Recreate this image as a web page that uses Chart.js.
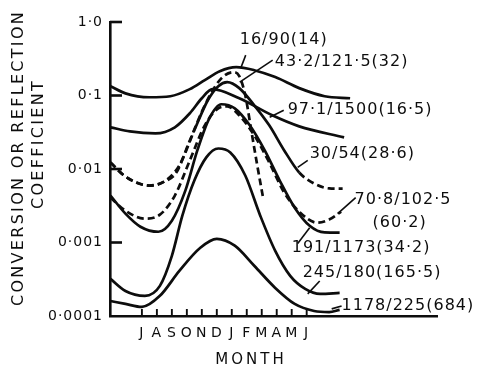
<!DOCTYPE html>
<html><head><meta charset="utf-8">
<script src="https://cdn.jsdelivr.net/npm/chart.js@4/dist/chart.umd.min.js"></script>
<style>html,body{margin:0;padding:0;background:#fff}</style>
</head><body>
<canvas id="c" width="481" height="367"></canvas>
<script>
// ---- categories / tick labels ----
const monthLabels = ['J','A','S','O','N','D','J','F','M','A','M','J'];
const yTickValues = [0.0001, 0.001, 0.01, 0.1, 1];
const yTickLabels = ['0·0001', '0·001', '0·01', '0·1', '1·0'];

// ---- series (month index: 0 = first J) ----
const months_16_90 = [-2.1,-1.1,0.5,1.9,3.2,4.2,5.2,6.3,7.5,8.9,10.5,12.2,13.9];
const coef_16_90   = [0.134,0.107,0.0946,0.0977,0.122,0.162,0.214,0.243,0.221,0.178,0.126,0.0977,0.0917];

const months_43_2 = [-2.1,-1.1,0.5,1.5,2.3,3.2,4.2,5.2,6.1,6.5,6.9,7.3,7.7,8.1];
const coef_43_2   = [0.0123,0.0079,0.00595,0.00675,0.00896,0.0245,0.0736,0.162,0.208,0.183,0.1008,0.0336,0.0112,0.00396];

const months_97_1 = [-2.1,-0.8,0.9,2.2,3.2,4.0,4.7,6.5,8.7,10.5,13.5];
const coef_97_1   = [0.0369,0.0325,0.0305,0.0369,0.0573,0.0917,0.122,0.0917,0.0537,0.038,0.0269];

const months_30_54 = [-2.1,-1.1,0.5,1.5,2.5,3.5,4.4,5.1,5.7,6.5,7.5,8.5,9.5,10.5,11.5,12.5,13.4];
const coef_30_54   = [0.0123,0.0079,0.00595,0.00675,0.0112,0.0336,0.0861,0.134,0.152,0.126,0.0736,0.0393,0.0179,0.00896,0.00634,0.00545,0.0054];

const months_70_8 = [-2.1,-1.1,0.2,1.2,2.2,3.2,4.2,5.1,5.7,6.5,7.5,8.5,9.5,10.5,11.7,12.5,13.3];
const coef_70_8   = [0.00408,0.00271,0.00211,0.00239,0.00435,0.0131,0.0393,0.067,0.0713,0.0537,0.0287,0.0123,0.00478,0.00263,0.00186,0.00205,0.00263];

const months_191 = [-2.1,-1.1,-0.1,1.1,2.0,2.9,3.7,4.5,5.3,6.2,7.2,8.2,9.2,10.2,11.2,12.2,13.2];
const coef_191   = [0.00435,0.00247,0.00164,0.0014,0.00198,0.00508,0.0179,0.0489,0.076,0.067,0.0393,0.0179,0.00697,0.00298,0.00169,0.00137,0.00136];

const months_245 = [-2.1,-1.1,0.2,1.2,2.0,2.7,3.5,4.3,5.1,5.9,6.9,7.9,8.9,9.9,10.9,11.9,13.2];
const coef_245   = [0.00032,0.000219,0.000188,0.000257,0.000659,0.00232,0.00697,0.0144,0.019,0.0168,0.00815,0.00232,0.00077,0.000352,0.000234,0.0002,0.000206];

const months_1178 = [-2.1,-1.1,0,1.2,2.5,3.9,5.0,6.2,7.5,8.9,10.2,11.5,12.5,13.2];
const coef_1178   = [0.00016,0.000146,0.000133,0.000188,0.000411,0.000848,0.00112,0.000904,0.000482,0.000241,0.000146,0.000117,0.000113,0.000121];

// ---- curve labels (text) ----
const labelTexts = ['16/90(14)','43·2/121·5(32)','97·1/1500(16·5)','30/54(28·6)','70·8/102·5','(60·2)','191/1173(34·2)','245/180(165·5)','1178/225(684)'];

// ---- layout (kept separate from data) ----
const labelAnchors = [[6.53,0.568],[8.87,0.284],[9.73,0.0629],[11.2,0.0163],[14.2,0.00383],[15.4,0.00186],[10.0,0.000848],[10.73,0.000386],[13.33,0.000137]];
const leaders = [
  [6.93,0.354,6.6,0.236],
  [8.73,0.303,6.53,0.152],
  [9.47,0.0629,8.53,0.0505],
  [11.07,0.0131,10.4,0.0105],
  [14.27,0.00408,13.07,0.00247],
  [10.4,0.00097,11.2,0.00159],
  [11.87,0.0003,11.07,0.0002],
  [12.67,0.000125,13.33,0.000137]
];

const DASH = [7,4];
const series = [
  {m: months_16_90, v: coef_16_90, dash: []},
  {m: months_43_2, v: coef_43_2, dash: DASH},
  {m: months_97_1, v: coef_97_1, dash: []},
  {m: months_30_54, v: coef_30_54, dash: [], seg: true},
  {m: months_70_8, v: coef_70_8, dash: DASH},
  {m: months_191, v: coef_191, dash: []},
  {m: months_245, v: coef_245, dash: []},
  {m: months_1178, v: coef_1178, dash: []}
];

const datasets = series.map(s => {
  const d = {
    data: s.m.map((mm, i) => ({x: mm, y: s.v[i]})),
    borderColor: '#0d0d0d', borderWidth: 2.7, borderDash: s.dash,
    pointRadius: 0, fill: false, cubicInterpolationMode: 'monotone'
  };
  if (s.seg) d.segment = { borderDash: ctx => (ctx.p0.parsed.x < 3 || ctx.p0.parsed.x >= 10.4) ? DASH : [] };
  return d;
});

const FONT = 'DejaVu Sans';

const decor = {
  id: 'decor',
  beforeDraw(chart) {
    const c = chart.ctx;
    c.save(); c.fillStyle = '#fff'; c.fillRect(0, 0, chart.width, chart.height); c.restore();
    c.letterSpacing = '1px';
  },
  afterDraw(chart) {
    const ctx = chart.ctx, x = chart.scales.x, y = chart.scales.y, ca = chart.chartArea;
    ctx.save();
    ctx.strokeStyle = '#0d0d0d'; ctx.fillStyle = '#0d0d0d';
    // inward y tick marks
    ctx.lineWidth = 2.6;
    [1, 0.1, 0.01, 0.001].forEach(v => {
      const py = y.getPixelForValue(v);
      ctx.beginPath(); ctx.moveTo(ca.left, py); ctx.lineTo(ca.left + 12, py); ctx.stroke();
    });
    // inward x tick marks
    ctx.lineWidth = 1.9;
    monthLabels.forEach((_, i) => {
      const px = x.getPixelForValue(i);
      ctx.beginPath(); ctx.moveTo(px, ca.bottom); ctx.lineTo(px, ca.bottom - 7); ctx.stroke();
    });
    // leader lines
    ctx.lineWidth = 1.6;
    leaders.forEach(l => {
      ctx.beginPath();
      ctx.moveTo(x.getPixelForValue(l[0]), y.getPixelForValue(l[1]));
      ctx.lineTo(x.getPixelForValue(l[2]), y.getPixelForValue(l[3]));
      ctx.stroke();
    });
    // curve labels
    ctx.font = '16px "' + FONT + '"';
    ctx.letterSpacing = '1px';
    ctx.textAlign = 'left'; ctx.textBaseline = 'middle';
    labelTexts.forEach((t, i) => {
      ctx.fillText(t, x.getPixelForValue(labelAnchors[i][0]), y.getPixelForValue(labelAnchors[i][1]));
    });
    // x title
    ctx.font = '15px "' + FONT + '"';
    ctx.letterSpacing = '3px';
    ctx.textAlign = 'center';
    ctx.fillText('MONTH', ca.left + 141, ca.bottom + 44);
    // y title (two rotated lines)
    ctx.font = '16px "' + FONT + '"';
    ctx.letterSpacing = '2.3px';
    ctx.save(); ctx.translate(19, 158); ctx.rotate(-Math.PI / 2);
    ctx.fillText('CONVERSION OR REFLECTION', 0, 0); ctx.restore();
    ctx.save(); ctx.translate(39, 144); ctx.rotate(-Math.PI / 2);
    ctx.fillText('COEFFICIENT', 0, 0); ctx.restore();
    ctx.restore();
  }
};

new Chart(document.getElementById('c'), {
  type: 'line',
  data: { datasets },
  options: {
    responsive: false, animation: false, devicePixelRatio: 1,
    layout: { padding: { left: 0, top: 22, right: 44, bottom: 0 } },
    plugins: { legend: { display: false }, tooltip: { enabled: false } },
    scales: {
      x: {
        type: 'linear', min: -2.13, max: 19.7,
        grid: { display: false, drawTicks: false },
        border: { display: true, color: '#0d0d0d', width: 2.6 },
        afterFit: s => { s.height = 51; },
        afterBuildTicks: s => { s.ticks = monthLabels.map((_, i) => ({ value: i })); },
        ticks: {
          autoSkip: false, maxRotation: 0, padding: 9, color: '#0d0d0d',
          font: { family: FONT, size: 14 },
          callback: v => monthLabels[v]
        }
      },
      y: {
        type: 'logarithmic', min: 0.0001, max: 1,
        grid: { display: false, drawTicks: false },
        border: { display: true, color: '#0d0d0d', width: 2.6 },
        afterFit: s => { s.width = 110; },
        afterBuildTicks: s => { s.ticks = yTickValues.map(v => ({ value: v })); },
        ticks: {
          padding: 7, color: '#0d0d0d', font: { family: FONT, size: 14 },
          callback: v => yTickLabels[yTickValues.indexOf(v)]
        }
      }
    }
  },
  plugins: [decor]
});
</script>
</body></html>
